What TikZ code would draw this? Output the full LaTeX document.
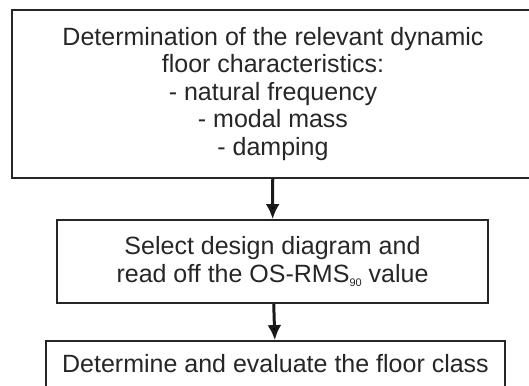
\documentclass[tikz,border=0pt]{standalone}
\usepackage{fontspec}
\setmainfont{Liberation Sans}
\usetikzlibrary{arrows.meta}

\begin{document}
\begin{tikzpicture}[x=1pt, y=-1pt, >={Latex[length=15pt, width=14pt]}]
		\tikzstyle{box} = [rectangle, draw=black!85, line width=1.8pt, inner sep=0pt, align=center, text=black!85, font=\fontsize{25}{27.5}\selectfont]
		\tikzstyle{link} = [line width=3pt, draw=black!90]
		
		\useasboundingbox (0,0) rectangle (529,385);
		\clip (0,0) rectangle (529,385);
		
		\node[box, minimum width=522pt, minimum height=168pt] at (273, 94)  (dyn) {Determination of the relevant dynamic\\ floor characteristics:\\ - natural frequency\\ - modal mass\\ - damping};
		\node[box, minimum width=431pt, minimum height=83pt] at (272.5, 261.5) (sel) {Select design diagram and\\ read off the OS-RMS\raisebox{-4pt}{\fontsize{11}{11}\selectfont 90} value};
		\node[box, minimum width=459pt, minimum height=46pt] at (275.5, 364) (cls) {Determine and evaluate the floor class};
		
		\path[->, link]
		(dyn)	edge	(sel)
		(sel)	edge	(cls);
		\end{tikzpicture}
\end{document}
